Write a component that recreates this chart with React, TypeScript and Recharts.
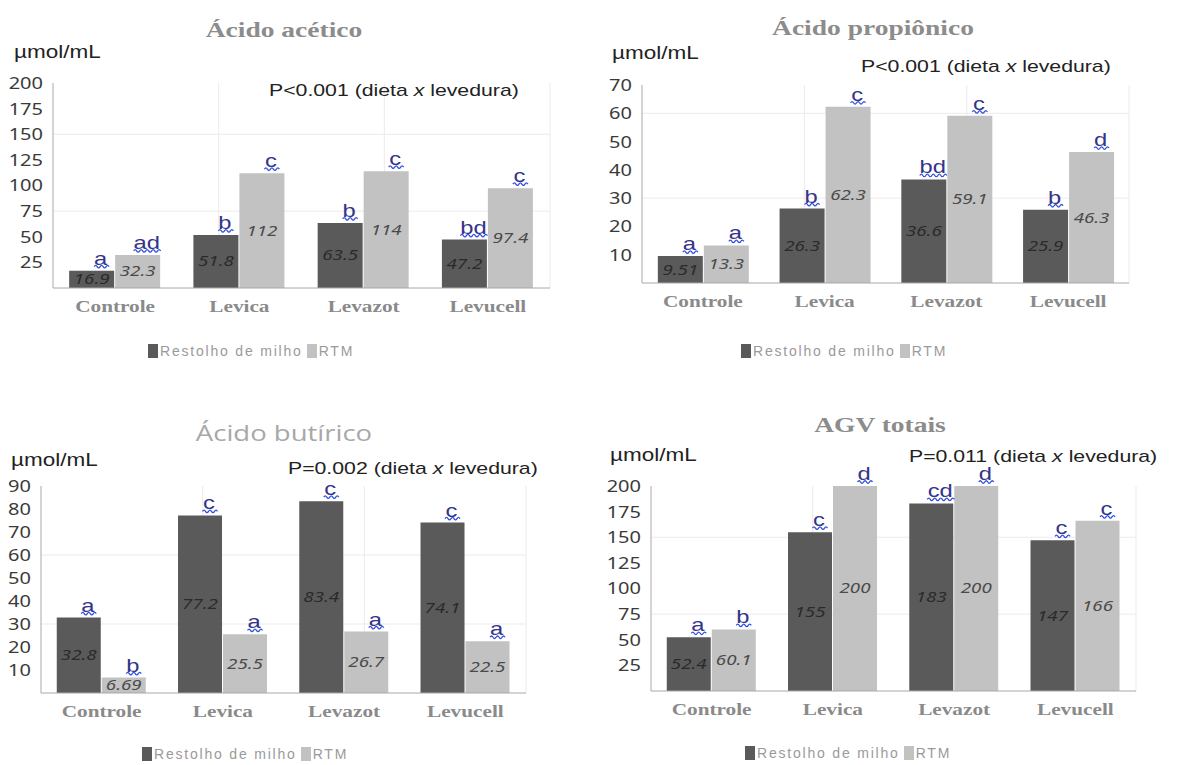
import React from "react";
import { BarChart, Bar, XAxis, YAxis, LabelList, Legend, CartesianGrid } from "recharts";

// categorias e séries comuns
const categorias = ["Controle", "Levica", "Levazot", "Levucell"];
const nomeRestolho = "Restolho de milho";
const nomeRtm = "RTM";
const ordemSeries = [nomeRestolho, nomeRtm];

// Ácido acético
const aceticoRestolho = [16.9, 51.8, 63.5, 47.2];
const aceticoRtm = [32.3, 112, 114, 97.4];
const aceticoLetrasRestolho = ["a", "b", "b", "bd"];
const aceticoLetrasRtm = ["ad", "c", "c", "c"];
const aceticoTicks = [25, 50, 75, 100, 125, 150, 175, 200];
const aceticoGrade = [75, 150];

// Ácido propiônico
const propionicoRestolho = [9.51, 26.3, 36.6, 25.9];
const propionicoRtm = [13.3, 62.3, 59.1, 46.3];
const propionicoLetrasRestolho = ["a", "b", "bd", "b"];
const propionicoLetrasRtm = ["a", "c", "c", "d"];
const propionicoTicks = [10, 20, 30, 40, 50, 60, 70];
const propionicoGrade = [30, 60];

// Ácido butírico
const butiricoRestolho = [32.8, 77.2, 83.4, 74.1];
const butiricoRtm = [6.69, 25.5, 26.7, 22.5];
const butiricoLetrasRestolho = ["a", "c", "c", "c"];
const butiricoLetrasRtm = ["b", "a", "a", "a"];
const butiricoTicks = [10, 20, 30, 40, 50, 60, 70, 80, 90];
const butiricoGrade = [30, 60];

// AGV totais
const agvRestolho = [52.4, 155, 183, 147];
const agvRtm = [60.1, 200, 200, 166];
const agvLetrasRestolho = ["a", "c", "cd", "c"];
const agvLetrasRtm = ["b", "d", "d", "c"];
const agvTicks = [25, 50, 75, 100, 125, 150, 175, 200];
const agvGrade = [75, 150];

const limitesCategorias = [1, 2, 3];

const montar = (r: number[], t: number[], lr: string[], lt: string[]) =>
  categorias.map((c, i) => ({
    categoria: c,
    restolho: r[i],
    rtm: t[i],
    letraRestolho: lr[i],
    letraRtm: lt[i],
  }));

const ESTICAR = 1.25;
const esticar = (x: number, y: number, k = ESTICAR) =>
  `translate(${x} ${y}) scale(${k} 1) translate(${-x} ${-y})`;

const TickY = (props: any) => {
  const { x, y, payload } = props;
  return (
    <text x={x} y={y} dy={6} textAnchor="end" fontFamily="Noto Sans" fontSize={16} fill="#3a3a3a" transform={esticar(x, y)}>
      {payload.value}
    </text>
  );
};

const TickX = (props: any) => {
  const { x, y, payload } = props;
  const by = y + 24;
  return (
    <text x={x} y={by} textAnchor="middle" fontFamily="Liberation Serif" fontWeight="bold" fontSize={17} fill="#8a8a8a" transform={esticar(x, by)}>
      {payload.value}
    </text>
  );
};

const valorLabel = (cor: string) => (props: any) => {
  const { x, y, width, height, value } = props;
  const cx = x + width / 2;
  const cy = y + height / 2 + 5;
  return (
    <text x={cx} y={cy} textAnchor="middle" fontFamily="Noto Sans" fontStyle="italic" fontSize={15} fill={cor} transform={esticar(cx, cy)}>
      {String(value)}
    </text>
  );
};

const LetraLabel = (props: any) => {
  const { x, y, width, value } = props;
  const cx = x + width / 2 + 9;
  const by = y - 6;
  const w = String(value).length * 13;
  const x0 = cx - w / 2;
  let d = `M${x0},${by + 2}`;
  for (let i = 0; i < Math.ceil(w / 3); i++) d += i === 0 ? " q1.5,-2.5 3,0" : " t3,0";
  return (
    <g>
      <text x={cx} y={by} textAnchor="middle" fontFamily="Liberation Sans" fontSize={19} fill="#34348a" transform={esticar(cx, by)}>
        {value}
      </text>
      <path d={d} fill="none" stroke="#3050e0" strokeWidth={1.3} />
    </g>
  );
};

const LegendaConteudo = (props: any) => {
  const itens = [...(props.payload || [])].sort(
    (a: any, b: any) => ordemSeries.indexOf(a.value) - ordemSeries.indexOf(b.value)
  );
  return (
    <div style={{ display: "flex", alignItems: "center", fontFamily: "Liberation Sans", fontSize: 14, color: "#9a9a9a", letterSpacing: 1.8, whiteSpace: "nowrap" }}>
      {itens.map((p: any, i: number) => (
        <span key={p.value} style={{ display: "flex", alignItems: "center", marginLeft: i === 0 ? 0 : 4 }}>
          <span style={{ display: "inline-block", width: 10, height: 14, background: p.color, marginRight: 2 }} />
          <span>{p.value}</span>
        </span>
      ))}
    </div>
  );
};

interface PainelProps {
  left: number;
  top: number;
  height: number;
  margin: { top: number; right: number; bottom: number; left: number };
  eixoY: number;
  dados: any[];
  maximo: number;
  ticks: number[];
  grade: number[];
  legenda: { left: number; top: number };
}

const Painel: React.FC<PainelProps> = ({ left, top, height, margin, eixoY, dados, maximo, ticks, grade, legenda }) => (
  <div style={{ position: "absolute", left, top }}>
    <BarChart width={591} height={height} data={dados} margin={margin} barCategoryGap="13%" barGap={1}>
      <CartesianGrid xAxisId="grade" horizontalValues={grade} verticalValues={limitesCategorias} stroke="#ebebeb" />
      <XAxis dataKey="categoria" height={30} tickSize={0} tickMargin={0} tick={<TickX />} axisLine={{ stroke: "#a8a8a8" }} />
      <XAxis xAxisId="grade" type="number" domain={[0, 4]} hide />
      <YAxis width={eixoY} domain={[0, maximo]} ticks={ticks} interval={0} tickSize={0} tickMargin={10} tick={<TickY />} axisLine={{ stroke: "#a8a8a8" }} />
      <Legend layout="horizontal" verticalAlign="middle" align="center" content={<LegendaConteudo />} wrapperStyle={{ left: legenda.left, top: legenda.top, width: 300, height: 16 }} />
      <Bar dataKey="restolho" name={nomeRestolho} fill="#5a5a5a" isAnimationActive={false}>
        <LabelList dataKey="restolho" content={valorLabel("#2a2a2a")} />
        <LabelList dataKey="letraRestolho" content={LetraLabel} />
      </Bar>
      <Bar dataKey="rtm" name={nomeRtm} fill="#c2c2c2" isAnimationActive={false}>
        <LabelList dataKey="rtm" content={valorLabel("#4a4a4a")} />
        <LabelList dataKey="letraRtm" content={LetraLabel} />
      </Bar>
    </BarChart>
  </div>
);

const Texto = ({ x, y, anchor = "start", size, fill, family, weight, children }: any) => (
  <text x={x} y={y} textAnchor={anchor} fontSize={size} fill={fill} fontFamily={family} fontWeight={weight} transform={esticar(x, y)}>
    {children}
  </text>
);

const PTexto = ({ x, y, prefixo }: any) => (
  <Texto x={x} y={y} size={17} fill="#222" family="Liberation Sans">
    {prefixo} (dieta <tspan fontStyle="italic">x</tspan> levedura)
  </Texto>
);

export default function App() {
  return (
    <div style={{ position: "absolute", left: 0, top: 0, width: 1182, height: 765, background: "#fff", overflow: "hidden" }}>
      <Painel left={0} top={0} height={380} margin={{ top: 83, right: 41, bottom: 62, left: 0 }} eixoY={53}
        dados={montar(aceticoRestolho, aceticoRtm, aceticoLetrasRestolho, aceticoLetrasRtm)} maximo={200}
        ticks={aceticoTicks} grade={aceticoGrade} legenda={{ left: 148, top: 343 }} />
      <Painel left={591} top={0} height={380} margin={{ top: 85, right: 53, bottom: 67, left: 0 }} eixoY={51}
        dados={montar(propionicoRestolho, propionicoRtm, propionicoLetrasRestolho, propionicoLetrasRtm)} maximo={70}
        ticks={propionicoTicks} grade={propionicoGrade} legenda={{ left: 150, top: 343 }} />
      <Painel left={0} top={400} height={365} margin={{ top: 86, right: 65, bottom: 42, left: 0 }} eixoY={41}
        dados={montar(butiricoRestolho, butiricoRtm, butiricoLetrasRestolho, butiricoLetrasRtm)} maximo={90}
        ticks={butiricoTicks} grade={butiricoGrade} legenda={{ left: 142, top: 346 }} />
      <Painel left={591} top={400} height={365} margin={{ top: 86, right: 46, bottom: 44, left: 0 }} eixoY={60}
        dados={montar(agvRestolho, agvRtm, agvLetrasRestolho, agvLetrasRtm)} maximo={200}
        ticks={agvTicks} grade={agvGrade} legenda={{ left: 154, top: 345 }} />

      <svg width={1182} height={765} style={{ position: "absolute", left: 0, top: 0, pointerEvents: "none" }}>
        <Texto x={284} y={37} anchor="middle" size={22} fill="#8c8c8c" family="Liberation Serif" weight="bold">Ácido acético</Texto>
        <Texto x={873} y={35} anchor="middle" size={22} fill="#8c8c8c" family="Liberation Serif" weight="bold">Ácido propiônico</Texto>
        <Texto x={284} y={441} anchor="middle" size={22} fill="#a8a8a8" family="Open Sans">Ácido butírico</Texto>
        <Texto x={880} y={432} anchor="middle" size={22} fill="#8c8c8c" family="Liberation Serif" weight="bold">AGV totais</Texto>

        <Texto x={14} y={58} size={18} fill="#222" family="Liberation Sans">µmol/mL</Texto>
        <Texto x={612} y={59} size={18} fill="#222" family="Liberation Sans">µmol/mL</Texto>
        <Texto x={11} y={466} size={18} fill="#222" family="Liberation Sans">µmol/mL</Texto>
        <Texto x={610} y={461} size={18} fill="#222" family="Liberation Sans">µmol/mL</Texto>

        <PTexto x={269} y={96} prefixo="P<0.001" />
        <PTexto x={861} y={72} prefixo="P<0.001" />
        <PTexto x={288} y={474} prefixo="P=0.002" />
        <PTexto x={909} y={462} prefixo="P=0.011" />
      </svg>
    </div>
  );
}
